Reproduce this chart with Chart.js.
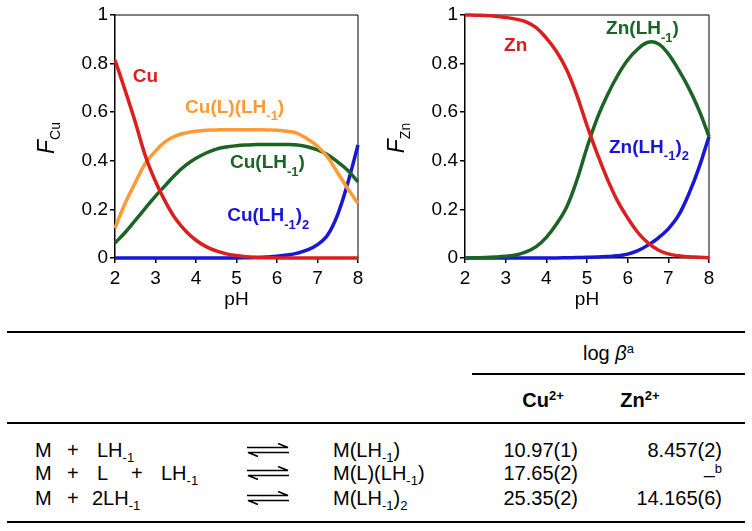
<!DOCTYPE html>
<html>
<head>
<meta charset="utf-8">
<script src="https://cdn.jsdelivr.net/npm/chart.js@4.4.1/dist/chart.umd.min.js"></script>
<style>
body { margin: 0; background: #fff; }
#page { position: relative; width: 752px; height: 531px; font-family: 'Liberation Sans', Arial, sans-serif; color: #000; }
.plot { position: absolute; top: 0; width: 376px; height: 315px; }
.rule { position: absolute; height: 2px; background: #000; }
.cell { position: absolute; font-size: 20px; line-height: 22px; white-space: nowrap; }
.cell sub { font-size: 13px; vertical-align: -5px; line-height: 0; }
.cell sup { font-size: 13px; vertical-align: 7px; line-height: 0; }
.arrow { position: absolute; }
</style>
</head>
<body>
<div id="page">
  <div class="plot" style="left:0"><canvas id="cuChart"></canvas></div>
  <div class="plot" style="left:376px"><canvas id="znChart"></canvas></div>
  <div id="table"></div>
</div>
<script>
// pH grid shared by both speciation plots
const pH = [2, 2.25, 2.5, 2.75, 3, 3.25, 3.5, 3.75, 4, 4.25, 4.5, 4.75, 5,
            5.25, 5.5, 5.75, 6, 6.25, 6.5, 6.75, 7, 7.25, 7.5, 7.75, 8];

// Cu(II) species fractions
const cuFree = [0.815, 0.69, 0.56, 0.42, 0.315, 0.23, 0.16, 0.11, 0.073, 0.047, 0.029, 0.017, 0.01,
                0.005, 0.0025, 0.001, 0.0005, 0, 0, 0, 0, 0, 0, 0, 0];
const cuLLH = [0.123, 0.225, 0.31, 0.39, 0.44, 0.48, 0.503, 0.515, 0.522, 0.526, 0.527, 0.528, 0.528,
               0.528, 0.528, 0.527, 0.526, 0.522, 0.513, 0.49, 0.46, 0.415, 0.35, 0.285, 0.225];
const cuLH = [0.062, 0.105, 0.155, 0.205, 0.255, 0.3, 0.345, 0.382, 0.41, 0.432, 0.448, 0.457, 0.462,
              0.465, 0.467, 0.467, 0.467, 0.467, 0.465, 0.458, 0.445, 0.425, 0.395, 0.36, 0.313];
const cuLH2 = [0, 0, 0, 0, 0, 0, 0, 0, 0, 0, 0, 0, 0,
               0.001, 0.002, 0.004, 0.007, 0.012, 0.02, 0.033, 0.055, 0.095, 0.18, 0.31, 0.465];

// Zn(II) species fractions
const znFree = [1, 0.999, 0.998, 0.995, 0.99, 0.983, 0.972, 0.948, 0.905, 0.85, 0.775, 0.67, 0.545,
                0.43, 0.325, 0.235, 0.165, 0.105, 0.062, 0.033, 0.017, 0.009, 0.005, 0.003, 0.001];
const znLH = [0, 0.001, 0.002, 0.004, 0.007, 0.012, 0.025, 0.047, 0.085, 0.14, 0.21, 0.32, 0.455,
              0.575, 0.67, 0.75, 0.815, 0.86, 0.888, 0.882, 0.84, 0.775, 0.7, 0.61, 0.5];
const znLH2 = [0, 0, 0, 0, 0, 0, 0, 0, 0, 0, 0.001, 0.002, 0.003,
               0.004, 0.006, 0.009, 0.016, 0.03, 0.053, 0.082, 0.12, 0.175, 0.262, 0.37, 0.5];

const xTicks = [2, 3, 4, 5, 6, 7, 8];
const yTicks = [0, 0.2, 0.4, 0.6, 0.8, 1];

// stability constant table
const reactants = [['M', '+', 'LH_{-1}'], ['M', '+', 'L', '+', 'LH_{-1}'], ['M', '+', '2LH_{-1}']];
const products = ['M(LH_{-1})', 'M(L)(LH_{-1})', 'M(LH_{-1})_{2}'];
const logBetaCu = ['10.97(1)', '17.65(2)', '25.35(2)'];
const logBetaZn = ['8.457(2)', '<span style="position:relative;top:2px">–</span>^{b}', '14.165(6)'];

const FONT = "'Liberation Sans', Arial, sans-serif";
const RED = '#dc1e1e', ORANGE = '#ff9a35', GREEN = '#1b6425', BLUE = '#1717d6';
Chart.defaults.font.family = FONT;

function richParts(str) {
  const parts = [];
  const re = /_\{([^}]*)\}/g;
  let last = 0, m;
  while ((m = re.exec(str))) {
    if (m.index > last) parts.push({ t: str.slice(last, m.index), sub: false });
    parts.push({ t: m[1], sub: true });
    last = re.lastIndex;
  }
  if (last < str.length) parts.push({ t: str.slice(last), sub: false });
  return parts;
}

function drawRich(ctx, str, x, y, font, subFont, shift, align) {
  const parts = richParts(str);
  let w = 0;
  parts.forEach(p => { ctx.font = p.sub ? subFont : font; p.w = ctx.measureText(p.t).width; w += p.w; });
  let cx = align === 'center' ? x - w / 2 : x;
  ctx.textAlign = 'left';
  ctx.textBaseline = 'middle';
  parts.forEach(p => {
    ctx.font = p.sub ? subFont : font;
    ctx.fillText(p.t, cx, y + (p.sub ? shift : 0));
    cx += p.w;
  });
}

const decorations = {
  id: 'decorations',
  beforeDatasetsDraw(chart) {
    const { ctx, chartArea: a } = chart;
    ctx.save();
    ctx.strokeStyle = '#000';
    ctx.lineWidth = 1;
    ctx.beginPath();
    ctx.moveTo(a.left, a.top);
    ctx.lineTo(a.right, a.top);
    ctx.lineTo(a.right, a.bottom);
    ctx.stroke();
    ctx.restore();
  },
  afterDatasetsDraw(chart, args, opts) {
    const { ctx, chartArea: a, scales: { x, y } } = chart;
    ctx.save();
    opts.labels.forEach(l => {
      ctx.fillStyle = l.color;
      drawRich(ctx, l.text, x.getPixelForValue(l.x), y.getPixelForValue(l.y),
               'bold 19px ' + FONT, 'bold 13px ' + FONT, 9, 'left');
    });
    ctx.fillStyle = '#000';
    drawRich(ctx, 'pH', (a.left + a.right) / 2, 300, '19px ' + FONT, '13px ' + FONT, 0, 'center');
    ctx.translate(opts.titleX, 138);
    ctx.rotate(-Math.PI / 2);
    drawRich(ctx, opts.title, 0, 0, 'italic 23px ' + FONT, '14px ' + FONT, 8, 'center');
    ctx.restore();
  }
};

function series(values, color) {
  return {
    data: pH.map((v, i) => ({ x: v, y: values[i] })),
    borderColor: color,
    borderWidth: 3.5,
    pointRadius: 0,
    tension: 0.4,
    clip: false
  };
}

function makeChart(id, datasets, axisWidth, rightPad, title, titleX, labels) {
  new Chart(document.getElementById(id), {
    type: 'line',
    data: { datasets },
    options: {
      responsive: true,
      maintainAspectRatio: false,
      animation: false,
      layout: { padding: { top: 15, right: rightPad, left: 0, bottom: 0 } },
      plugins: {
        legend: { display: false },
        tooltip: { enabled: false },
        decorations: { title, titleX, labels }
      },
      scales: {
        x: {
          type: 'linear', min: 2, max: 8,
          afterBuildTicks: s => { s.ticks = xTicks.map(v => ({ value: v })); },
          afterFit: s => { s.height = 57; },
          ticks: { color: '#000', font: { size: 19 }, padding: 4, callback: v => String(v) },
          grid: { drawOnChartArea: false, tickLength: 5, color: '#000', lineWidth: 1.5 },
          border: { color: '#000', width: 1.5 }
        },
        y: {
          min: 0, max: 1,
          afterBuildTicks: s => { s.ticks = yTicks.map(v => ({ value: v })); },
          afterFit: s => { s.width = axisWidth; },
          ticks: { color: '#000', font: { size: 19 }, padding: 2, callback: v => String(v) },
          grid: { drawOnChartArea: false, tickLength: 5, color: '#000', lineWidth: 1.5 },
          border: { color: '#000', width: 1.5 }
        }
      }
    },
    plugins: [decorations]
  });
}

makeChart('cuChart',
  [series(cuFree, RED), series(cuLLH, ORANGE), series(cuLH, GREEN), series(cuLH2, BLUE)],
  115, 18, 'F_{Cu}', 48,
  [
    { text: 'Cu', x: 2.44, y: 0.745, color: RED },
    { text: 'Cu(L)(LH_{-1})', x: 3.73, y: 0.62, color: ORANGE },
    { text: 'Cu(LH_{-1})', x: 4.84, y: 0.39, color: GREEN },
    { text: 'Cu(LH_{-1})_{2}', x: 4.77, y: 0.173, color: BLUE }
  ]);

makeChart('znChart',
  [series(znFree, RED), series(znLH, GREEN), series(znLH2, BLUE)],
  89, 43, 'F_{Zn}', 22,
  [
    { text: 'Zn', x: 2.96, y: 0.872, color: RED },
    { text: 'Zn(LH_{-1})', x: 5.47, y: 0.942, color: GREEN },
    { text: 'Zn(LH_{-1})_{2}', x: 5.54, y: 0.455, color: BLUE }
  ]);

// ---- table below the plots ----
function toHtml(str) {
  return str.replace(/_\{([^}]*)\}/g, '<sub>$1</sub>').replace(/\^\{([^}]*)\}/g, '<sup>$1</sup>');
}

const table = document.getElementById('table');
function add(html, style, cls) {
  const el = document.createElement('div');
  el.className = cls || 'cell';
  el.setAttribute('style', style);
  el.innerHTML = html;
  table.appendChild(el);
  return el;
}

[[332, 7, 738], [374, 472, 273], [423, 7, 738], [522, 7, 738]].forEach(([top, left, w]) =>
  add('', `top:${top - 1}px;left:${left}px;width:${w}px`, 'rule'));

add('log <i>β</i><sup>a</sup>', 'top:342px;left:472px;width:273px;text-align:center');
add('<b>Cu<sup>2+</sup></b>', 'top:389px;left:503px;width:80px;text-align:center');
add('<b>Zn<sup>2+</sup></b>', 'top:389px;left:600px;width:80px;text-align:center');

const rowY = [450, 473, 498];
const tokenX = [[35, 67, 97], [35, 67, 97, 131, 161], [35, 67, 92]];
const arrowSvg = '<svg width="42" height="14" viewBox="0 0 42 14">' +
  '<path d="M0 4.5H41L31 0.5" fill="none" stroke="#000" stroke-width="1.6"/>' +
  '<path d="M42 9.5H1L11 13.5" fill="none" stroke="#000" stroke-width="1.6"/></svg>';

rowY.forEach((cy, r) => {
  const top = cy - 11;
  reactants[r].forEach((tok, k) => add(toHtml(tok), `top:${top}px;left:${tokenX[r][k]}px`));
  add(arrowSvg, `top:${cy - 7}px;left:247px;line-height:0`, 'arrow');
  add(toHtml(products[r]), `top:${top}px;left:333px`);
  add(toHtml(logBetaCu[r]), `top:${top}px;right:174px`);
  add(toHtml(logBetaZn[r]), `top:${top}px;right:30px`);
});
</script>
</body>
</html>
